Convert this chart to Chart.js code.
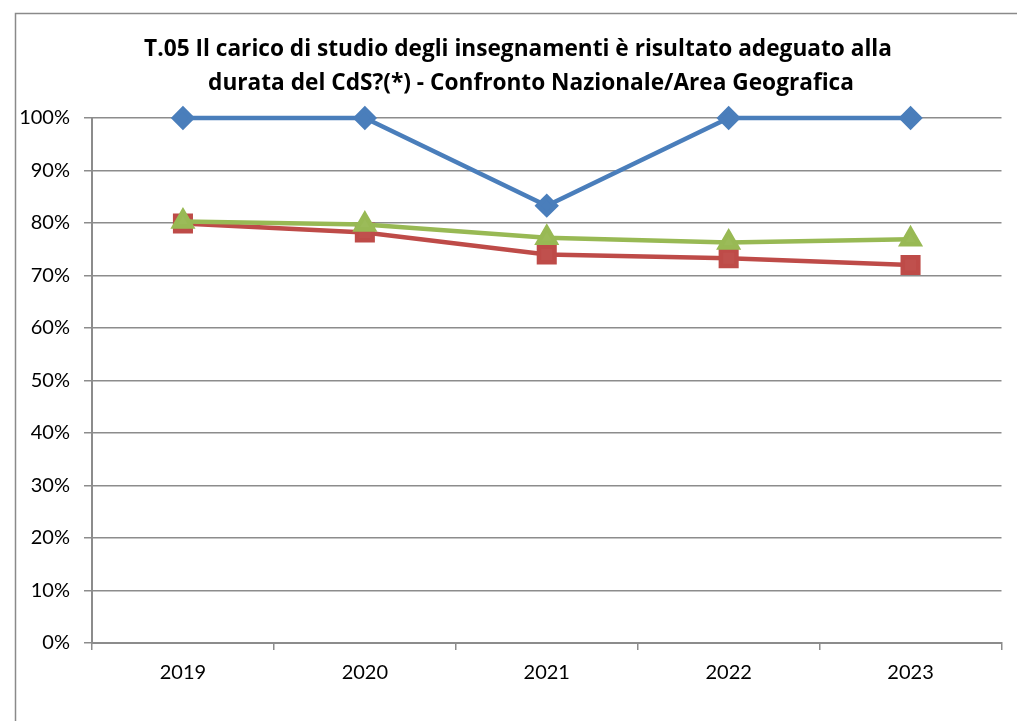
<!DOCTYPE html>
<html>
<head>
<meta charset="utf-8">
<script src="https://cdn.jsdelivr.net/npm/chart.js@4.4.1/dist/chart.umd.min.js"></script>
<style>
    html, body { margin: 0; padding: 0; background: #fff; }
    #wrap { width: 1017px; height: 721px; position: relative; }
</style>
</head>
<body>
<div id="wrap"><canvas id="lineChart" width="1017" height="721"></canvas></div>
<script>
const anni = ['2019', '2020', '2021', '2022', '2023'];
const serie_CdS = [100, 100, 83.3, 100, 100];
const serie_Nazionale = [79.9, 78.2, 74.0, 73.3, 72.0];
const serie_Area = [80.3, 79.7, 77.2, 76.3, 76.9];
const titolo = [
    'T.05 Il carico di studio degli insegnamenti è risultato adeguato alla',
    'durata del CdS?(*) - Confronto Nazionale/Area Geografica'
];
const yTicks = [0, 10, 20, 30, 40, 50, 60, 70, 80, 90, 100];

const grigio = '#8c8c8c';

// cornice esterna e titolo disegnati sul canvas
const cornice = {
    id: 'cornice',
    beforeDraw(chart) {
        const ctx = chart.ctx;
        ctx.save();
        ctx.strokeStyle = '#8a8a8a';
        ctx.lineWidth = 1.5;
        ctx.strokeRect(15.5, 13.5, 1100, 800);
        ctx.restore();
    },
    afterDraw(chart) {
        const ctx = chart.ctx;
        ctx.save();
        let size = 22;
        ctx.font = `bold ${size}px "Open Sans"`;
        const w = ctx.measureText(titolo[0]).width;
        size = size * 748 / w;
        ctx.font = `bold ${size.toFixed(2)}px "Open Sans"`;
        ctx.fillStyle = '#000';
        ctx.textAlign = 'center';
        ctx.textBaseline = 'alphabetic';
        ctx.fillText(titolo[0], 518, 56);
        ctx.fillText(titolo[1], 531, 90);
        ctx.restore();
    }
};

new Chart(document.getElementById('lineChart').getContext('2d'), {
    type: 'line',
    data: {
        labels: anni,
        datasets: [
            {
                label: 'CdS',
                data: serie_CdS,
                borderColor: '#4a7ebb',
                backgroundColor: '#4a7ebb',
                borderWidth: 4.5,
                pointStyle: 'rectRot',
                pointRadius: 9,
                pointHoverRadius: 9,
                clip: false,
                order: 2
            },
            {
                label: 'Nazionale',
                data: serie_Nazionale,
                borderColor: '#be4b48',
                backgroundColor: '#c0504d',
                borderWidth: 4.5,
                pointStyle: 'rect',
                pointRadius: 11,
                pointHoverRadius: 11,
                clip: false,
                order: 1
            },
            {
                label: 'Area Geografica',
                data: serie_Area,
                borderColor: '#98b954',
                backgroundColor: '#9bbb59',
                borderWidth: 4.5,
                pointStyle: 'triangle',
                pointRadius: 10,
                pointHoverRadius: 10,
                clip: false,
                order: 0
            }
        ]
    },
    options: {
        responsive: false,
        animation: false,
        events: [],
        layout: { padding: { left: 0, right: 12, top: 118, bottom: 38 } },
        plugins: {
            legend: { display: false },
            title: { display: false },
            tooltip: { enabled: false }
        },
        scales: {
            x: {
                offset: true,
                grid: {
                    offset: true,
                    drawOnChartArea: false,
                    drawTicks: true,
                    tickLength: 7,
                    color: grigio,
                    lineWidth: 1.5
                },
                border: { color: grigio, width: 2 },
                ticks: {
                    color: '#000',
                    padding: 11,
                    font: { family: 'Lato', size: 20 }
                },
                afterFit: s => { s.height = 40; }
            },
            y: {
                min: 0,
                max: 100,
                afterBuildTicks: s => { s.ticks = yTicks.map(v => ({ value: v })); },
                grid: {
                    color: grigio,
                    lineWidth: 1.5,
                    tickLength: 8
                },
                border: { color: grigio, width: 2 },
                ticks: {
                    color: '#000',
                    padding: 14,
                    font: { family: 'Lato', size: 20 },
                    callback: v => v + '%'
                },
                afterFit: s => { s.width = 92; }
            }
        }
    },
    plugins: [cornice]
});
</script>
</body>
</html>
